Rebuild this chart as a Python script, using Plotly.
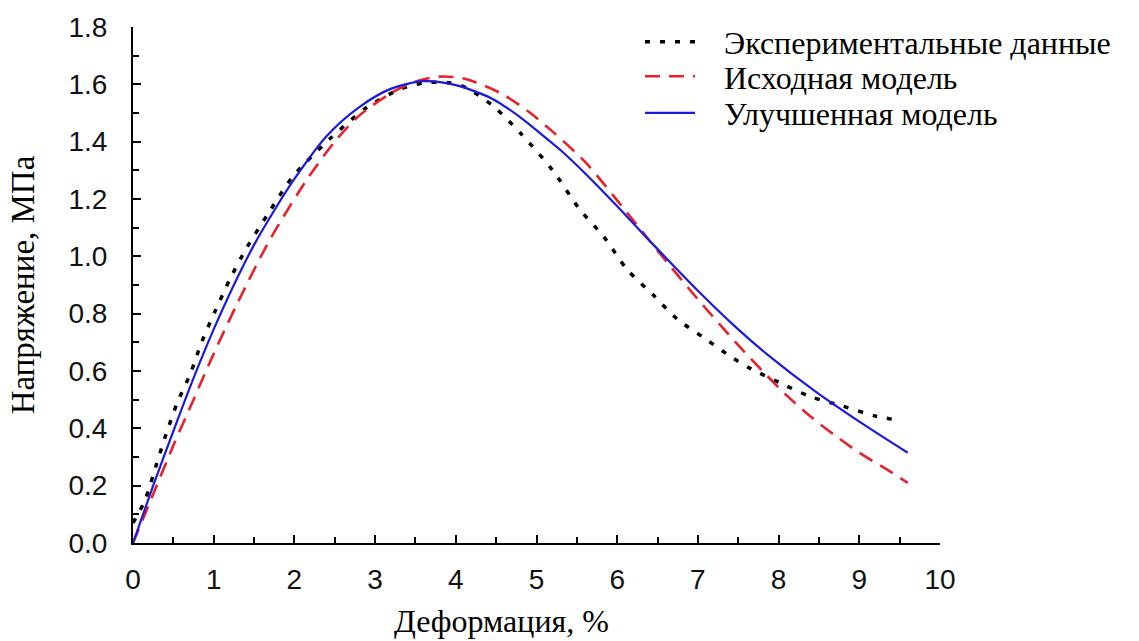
import plotly.graph_objects as go

# Experimental data (dotted black)
exp_x = [0.0, 0.15, 0.28, 0.41, 0.55, 0.71, 0.85, 1.02, 1.2, 1.41, 1.7, 1.98, 2.44, 2.9, 3.31, 3.6,
         3.93, 4.13, 4.46, 4.8, 5.2, 5.54, 5.83, 6.12, 6.45, 6.74, 7.09, 7.44, 7.65, 8.0, 8.39,
         8.8, 9.21, 9.45]
exp_y = [0.07, 0.15, 0.265, 0.38, 0.49, 0.59, 0.70, 0.81, 0.92, 1.03, 1.16, 1.278, 1.41, 1.52,
         1.583, 1.605, 1.605, 1.588, 1.525, 1.43, 1.30, 1.162, 1.07, 0.955, 0.864, 0.782, 0.713,
         0.644, 0.609, 0.561, 0.511, 0.477, 0.442, 0.43]

# Original model (dashed red)
orig_x = [0.0, 0.25, 0.5, 0.75, 1.0, 1.3, 1.7, 2.16, 2.5, 2.8, 3.2, 3.5, 3.8, 4.1, 4.55, 4.9,
          5.2, 5.6, 6.0, 6.5, 7.0, 7.5, 7.8, 8.1, 8.4, 8.7, 9.0, 9.35, 9.6]
orig_y = [0.0, 0.17, 0.34, 0.50, 0.66, 0.84, 1.06, 1.27, 1.40, 1.49, 1.57, 1.61, 1.627, 1.62,
          1.57, 1.505, 1.435, 1.33, 1.195, 1.02, 0.85, 0.69, 0.60, 0.515, 0.44, 0.375, 0.315,
          0.255, 0.21]

# Improved model (solid blue)
impr_x = [0.0, 0.25, 0.5, 0.75, 1.0, 1.25, 1.5, 1.75, 2.0, 2.4, 2.8, 3.2, 3.6, 4.0, 4.45, 4.8,
          5.0, 5.3, 5.6, 6.0, 6.45, 7.0, 7.5, 7.85, 8.45, 9.1, 9.6]
impr_y = [0.0, 0.20, 0.39, 0.575, 0.745, 0.90, 1.04, 1.16, 1.27, 1.42, 1.52, 1.585, 1.611, 1.597,
          1.55, 1.485, 1.44, 1.37, 1.29, 1.175, 1.04, 0.88, 0.745, 0.66, 0.53, 0.405, 0.315]

names = ["Экспериментальные данные", "Исходная модель", "Улучшенная модель"]
x_ticks = [0, 1, 2, 3, 4, 5, 6, 7, 8, 9, 10]
y_ticks = [0.0, 0.2, 0.4, 0.6, 0.8, 1.0, 1.2, 1.4, 1.6, 1.8]

SERIF = "Liberation Serif, Times New Roman, serif"
SANS = "Liberation Sans, Arial, sans-serif"
PAD = "\u00a0\u00a0\u00a0"

fig = go.Figure()
fig.add_trace(go.Scatter(x=exp_x, y=exp_y, mode="lines", name=PAD + names[0], legend="legend",
                         line=dict(color="black", width=3.5, dash="5px,10px", shape="spline",
                                   smoothing=0.8)))
fig.add_trace(go.Scatter(x=orig_x, y=orig_y, mode="lines", name=PAD + names[1], legend="legend2",
                         line=dict(color="#e8202a", width=2.6, dash="15px,9px", shape="spline",
                                   smoothing=0.8)))
fig.add_trace(go.Scatter(x=impr_x, y=impr_y, mode="lines", name=PAD + names[2], legend="legend3",
                         line=dict(color="#1a1adc", width=2.2, shape="spline", smoothing=0.8)))

axis_common = dict(showline=True, linecolor="black", linewidth=2, showgrid=False, zeroline=False,
                   ticks="inside", tickcolor="black", tickwidth=2, ticklen=8,
                   tickfont=dict(family=SANS, size=28, color="#111"))

fig.update_xaxes(range=[0, 10], tickvals=x_ticks, ticktext=[str(v) for v in x_ticks],
                 minor=dict(ticks="inside", ticklen=6, tickwidth=2, tickcolor="black", dtick=0.5),
                 ticklabelstandoff=10,
                 **axis_common)
fig.update_yaxes(range=[0, 1.8], tickvals=y_ticks, ticktext=[f"{v:.1f}" for v in y_ticks],
                 minor=dict(ticks="inside", ticklen=6, tickwidth=2, tickcolor="black", dtick=0.1),
                 ticklabelstandoff=18,
                 title=dict(text="Напряжение, МПа", font=dict(family=SERIF, size=33, color="black"),
                            standoff=24),
                 **axis_common)

legend_common = dict(xanchor="left", yanchor="middle", bgcolor="rgba(0,0,0,0)", itemwidth=50,
                     font=dict(family=SERIF, size=32, color="black"))
x_leg = (640 - 133) / 807
fig.update_layout(
    width=1139, height=641,
    margin=dict(l=133, r=199, t=22, b=98),
    paper_bgcolor="white", plot_bgcolor="white",
    showlegend=True,
    legend=dict(x=x_leg, y=(543 - 37) / 521, **legend_common),
    legend2=dict(x=x_leg, y=(543 - 72) / 521, **legend_common),
    legend3=dict(x=x_leg, y=(543 - 109) / 521, **legend_common),
    annotations=[dict(text="Деформация, %", xref="paper", yref="paper",
                      x=(501 - 133) / 807, y=(543 - 622) / 521, xanchor="center", yanchor="middle",
                      showarrow=False, font=dict(family=SERIF, size=32, color="black"))],
)

fig.write_html("out.html")
